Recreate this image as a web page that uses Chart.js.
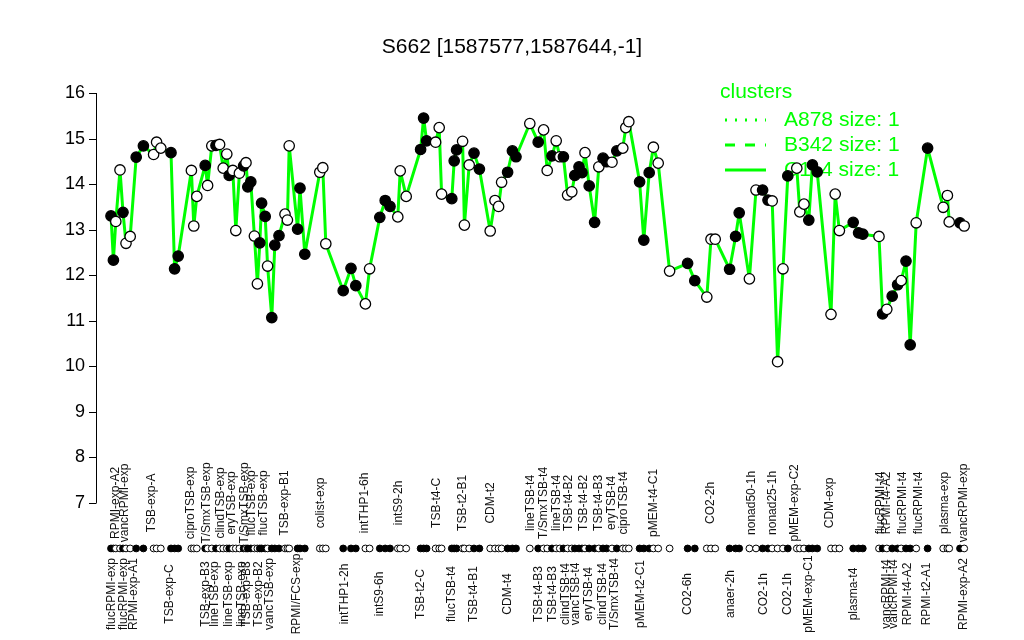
<!DOCTYPE html>
<html>
<head>
<meta charset="utf-8">
<script src="https://cdn.jsdelivr.net/npm/chart.js@4.4.1/dist/chart.umd.min.js"></script>
<style>
  html, body { margin: 0; padding: 0; background: #fff; }
  #wrap { width: 1024px; height: 640px; position: relative; }
</style>
</head>
<body>
<div id="wrap"><canvas id="geneChart" width="1024" height="640"></canvas></div>
<script>
// sample positions along the x axis (arbitrary units), values and whether the marker is filled
const positions = [2.5, 2.9, 3.3, 4.0, 4.5, 5.0, 5.7, 6.7, 7.9, 9.6, 10.1, 10.8, 12.5, 13.1, 13.7,
  15.9, 16.3, 16.8, 18.2, 18.6, 19.3, 20.0, 20.6, 21.2, 21.8, 22.2, 22.8, 23.3, 23.9, 24.6, 25.0,
  25.3, 25.8, 26.4, 26.9, 27.3, 27.6, 28.2, 28.6, 29.3, 29.8, 30.5, 31.5, 31.9, 32.2, 33.6, 34.0,
  34.8, 37.3, 37.8, 38.3, 41.2, 42.5, 43.3, 44.9, 45.6, 47.3, 48.2, 49.0, 50.3, 50.7, 51.7, 54.1,
  54.6, 55.1, 56.6, 57.2, 57.6, 59.3, 59.7, 60.1, 61.1, 61.4, 62.2, 63.0, 63.9, 65.7, 66.5, 67.1,
  67.6, 68.6, 69.4, 70.0, 72.3, 73.7, 74.6, 75.2, 76.0, 76.7, 77.3, 77.9, 78.6, 79.3, 79.8, 80.5,
  81.0, 81.5, 82.2, 83.1, 83.8, 84.5, 85.1, 86.0, 86.8, 87.8, 88.3, 88.8, 90.6, 91.3, 92.2, 92.9,
  93.7, 95.6, 98.6, 99.8, 101.8, 102.5, 103.2, 105.6, 106.6, 107.2, 108.9, 110.0, 111.1, 112.0,
  112.7, 113.6, 114.5, 115.3, 116.8, 117.3, 118.0, 118.8, 119.4, 120.2, 122.5, 123.2, 123.9, 126.2,
  127.1, 127.8, 130.5, 131.1, 131.8, 132.7, 133.6, 134.2, 135.0, 135.7, 136.7, 138.6, 141.2, 141.9,
  142.2, 144.0, 144.7];
const values = [13.30, 12.33, 13.18, 14.31, 13.38, 12.70, 12.85, 14.59, 14.84, 14.65, 14.92, 14.79,
  14.69, 12.14, 12.42, 14.30, 13.08, 13.73, 14.41, 13.97, 14.84, 14.85, 14.87, 14.35, 14.66, 14.19,
  14.30, 12.98, 14.24, 14.40, 14.47, 13.94, 14.05, 12.86, 11.81, 12.71, 13.58, 13.29, 12.20, 11.07,
  12.66, 12.87, 13.34, 13.21, 14.84, 13.01, 13.91, 12.46, 14.26, 14.36, 12.69, 11.66, 12.15, 11.77,
  11.37, 12.14, 13.27, 13.64, 13.51, 13.28, 14.29, 13.73, 14.76, 15.45, 14.95, 14.92, 15.24, 13.78,
  13.68, 14.51, 14.75, 14.94, 13.10, 14.42, 14.68, 14.33, 12.97, 13.64, 13.51, 14.04, 14.26, 14.73,
  14.60, 15.33, 14.92, 15.19, 14.30, 14.62, 14.95, 14.60, 14.60, 13.76, 13.83, 14.19, 14.38, 14.25,
  14.69, 13.96, 13.16, 14.38, 14.57, 14.49, 14.48, 14.73, 14.79, 15.24, 15.37, 14.05, 12.77, 14.25,
  14.81, 14.46, 12.09, 12.26, 11.88, 11.52, 12.79, 12.79, 12.13, 12.85, 13.37, 11.92, 13.87, 13.87,
  13.65, 13.63, 10.10, 12.14, 14.18, 14.35, 13.39, 13.56, 13.21, 14.42, 14.27, 11.14, 13.78, 12.98,
  13.16, 12.93, 12.90, 12.85, 11.15, 11.25, 11.54, 11.79, 11.88, 12.31, 10.47, 13.15, 14.79, 13.49,
  13.75, 13.17, 13.15, 13.08];
const filled = [1,1,0,0,1,0,0,1,1,0,0,0,1,1,1,0,0,0,1,0,0,1,0,0,0,1,0,0,0,1,0,1,1,0,0,1,1,1,0,1,
  1,1,0,0,0,1,1,1,0,0,0,1,1,1,0,0,1,1,1,0,0,0,1,1,1,0,0,0,1,1,1,0,0,0,1,1,0,0,0,0,1,1,1,0,1,0,0,
  1,0,0,1,0,0,1,1,1,0,1,1,0,1,1,0,1,0,0,0,1,1,1,0,0,0,1,1,0,0,0,1,1,1,0,0,1,1,0,0,0,1,0,0,0,1,1,
  1,0,0,0,1,1,1,0,1,0,1,1,0,1,1,0,1,0,0,0,1,0];

const topLabels = ["RPMI-exp-A2", "vancRPMI-exp", "TSB-exp-A", "ciproTSB-exp", "T/SmxTSB-exp",
  "clindTSB-exp", "eryTSB-exp", "T/SmxTSB-exp", "flucTSB-exp", "flucTSB-exp", "TSB-exp-B1",
  "colist-exp", "intTHP1-6h", "intS9-2h", "TSB-t4-C", "TSB-t2-B1", "CDM-t2", "lineTSB-t4",
  "T/SmxTSB-t4", "lineTSB-t4", "TSB-t4-B2", "TSB-t4-B2", "TSB-t4-B3", "eryTSB-t4", "ciproTSB-t4",
  "pMEM-t4-C1", "CO2-2h", "nonad50-1h", "nonad25-1h", "pMEM-exp-C2", "CDM-exp", "flucRPMI-t4",
  "RPMI-t4-A2", "flucRPMI-t4", "flucRPMI-t4", "plasma-exp", "vancRPMI-exp"];
const topLabelPos = [3.3, 4.8, 9.3, 15.8, 18.5, 20.7, 22.6, 24.8, 26.0, 27.9, 31.5, 37.5, 44.8,
  50.4, 56.7, 61.1, 65.7, 72.5, 74.6, 76.7, 78.7, 81.3, 83.8, 85.9, 87.9, 92.9, 102.5, 109.3,
  112.8, 116.5, 122.3, 130.7, 131.8, 134.4, 137.1, 141.5, 144.6];
const bottomLabels = ["flucRPMI-exp", "flucRPMI-exp", "RPMI-exp-A1", "TSB-exp-C", "TSB-exp-B3",
  "lineTSB-exp", "lineTSB-exp", "lineTSB-exp", "TSB-exp-B3", "TSB-exp-B2", "vancTSB-exp",
  "RPMI/FCS-exp", "intTHP1-2h", "intS9-6h", "TSB-t2-C", "flucTSB-t4", "TSB-t4-B1", "CDM-t4",
  "TSB-t4-B3", "TSB-t4-B3", "clindTSB-t4", "vancTSB-t4", "eryTSB-t4", "clindTSB-t4", "T/SmxTSB-t4",
  "pMEM-t2-C1", "CO2-6h", "anaer-2h", "CO2-1h", "CO2-1h", "pMEM-exp-C1", "plasma-t4",
  "vancRPMI-t4", "vancRPMI-t4", "RPMI-t4-A2", "RPMI-t2-A1", "RPMI-exp-A2"];
const bottomLabelPos = [2.6, 4.6, 6.2, 12.3, 18.2, 19.8, 22.1, 24.3, 25.1, 27.1, 29.0, 33.5,
  41.5, 47.3, 54.1, 59.3, 63.0, 68.6, 73.7, 76.1, 78.2, 80.0, 82.1, 84.5, 86.5, 90.7, 98.6, 105.7,
  111.2, 115.2, 118.7, 126.2, 131.7, 132.9, 135.2, 138.5, 144.6];
const yTicks = [7, 8, 9, 10, 11, 12, 13, 14, 15, 16];
const rugLevel = 6;
const topLabelLevel = 7.0;
const bottomLabelLevel = 5.0;
const legendNames = ["A878 size: 1", "B342 size: 1", "C114 size: 1"];

const FONT = '"Liberation Sans", Arial, Helvetica, sans-serif';
const GREEN = '#00ff00';

const linePoints = positions.map((x, i) => ({ x: x, y: values[i] }));
const rugPoints = positions.map(x => ({ x: x, y: rugLevel }));
const fills = filled.map(f => f ? '#000000' : '#ffffff');

// legend sits under the points, like in the original
const legendUnder = {
    id: 'legendUnder',
    beforeDatasetsDraw(chart) {
        const ctx = chart.ctx;
        ctx.save();
        ctx.fillStyle = GREEN;
        ctx.strokeStyle = GREEN;
        ctx.font = '21px ' + FONT;
        ctx.textAlign = 'left';
        ctx.textBaseline = 'middle';
        ctx.fillText('clusters', 720, 92);
        const dashes = [[2, 8], [10, 10], []];
        legendNames.forEach((name, i) => {
            const ly = 120 + i * 25;
            ctx.setLineDash(dashes[i]);
            ctx.lineWidth = 3;
            ctx.beginPath();
            ctx.moveTo(725, ly);
            ctx.lineTo(766, ly);
            ctx.stroke();
            ctx.setLineDash([]);
            ctx.fillText(name, 784, ly);
        });
        ctx.restore();
    }
};

// draws the R-style axis, labels and title
const decorations = {
    id: 'decorations',
    afterDatasetsDraw(chart) {
        const ctx = chart.ctx;
        const xs = chart.scales.x;
        const ys = chart.scales.y;
        const axisX = chart.chartArea.left;
        ctx.save();

        // y axis
        ctx.strokeStyle = '#000';
        ctx.lineWidth = 1;
        ctx.beginPath();
        ctx.moveTo(axisX + 0.5, ys.getPixelForValue(yTicks[0]));
        ctx.lineTo(axisX + 0.5, ys.getPixelForValue(yTicks[yTicks.length - 1]));
        yTicks.forEach(t => {
            const py = Math.round(ys.getPixelForValue(t)) + 0.5;
            ctx.moveTo(axisX + 0.5, py);
            ctx.lineTo(axisX - 7, py);
        });
        ctx.stroke();
        ctx.fillStyle = '#000';
        ctx.font = '18px ' + FONT;
        ctx.textAlign = 'right';
        ctx.textBaseline = 'middle';
        yTicks.forEach(t => ctx.fillText(String(t), axisX - 11, ys.getPixelForValue(t)));

        // title
        ctx.font = '21px ' + FONT;
        ctx.textAlign = 'center';
        ctx.fillText('S662 [1587577,1587644,-1]', 512, 47);

        // rotated category labels, centred on their row
        ctx.font = '12px ' + FONT;
        ctx.fillStyle = '#111';
        const drawRow = (labels, pos, level) => {
            const cy = ys.getPixelForValue(level);
            labels.forEach((lab, i) => {
                ctx.save();
                ctx.translate(xs.getPixelForValue(pos[i]), cy);
                ctx.rotate(-Math.PI / 2);
                ctx.textAlign = 'center';
                ctx.textBaseline = 'middle';
                ctx.fillText(lab, 0, 0);
                ctx.restore();
            });
        };
        drawRow(topLabels, topLabelPos, topLabelLevel);
        drawRow(bottomLabels, bottomLabelPos, bottomLabelLevel);
        ctx.restore();
    }
};

const canvasElement = document.getElementById('geneChart');
const config = {
    type: 'line',
    data: {
        datasets: [{
            label: 'expression',
            data: linePoints,
            borderColor: GREEN,
            borderWidth: 3,
            borderJoinStyle: 'round',
            borderCapStyle: 'round',
            pointRadius: 5.2,
            pointBackgroundColor: fills,
            pointBorderColor: '#000',
            pointBorderWidth: 1.3,
            tension: 0
        }, {
            label: 'rug',
            data: rugPoints,
            showLine: false,
            pointRadius: 3.4,
            pointBackgroundColor: fills,
            pointBorderColor: '#000',
            pointBorderWidth: 1
        }]
    },
    options: {
        responsive: false,
        animation: false,
        layout: { padding: { left: 96, right: 34, top: 93, bottom: 46 } },
        plugins: {
            legend: { display: false },
            title: { display: false },
            tooltip: { enabled: false }
        },
        scales: {
            x: { type: 'linear', min: 0, max: 149, display: false },
            y: { min: 5, max: 16, display: false }
        }
    },
    plugins: [legendUnder, decorations]
};

const geneChart = new Chart(canvasElement, config);
</script>
</body>
</html>
